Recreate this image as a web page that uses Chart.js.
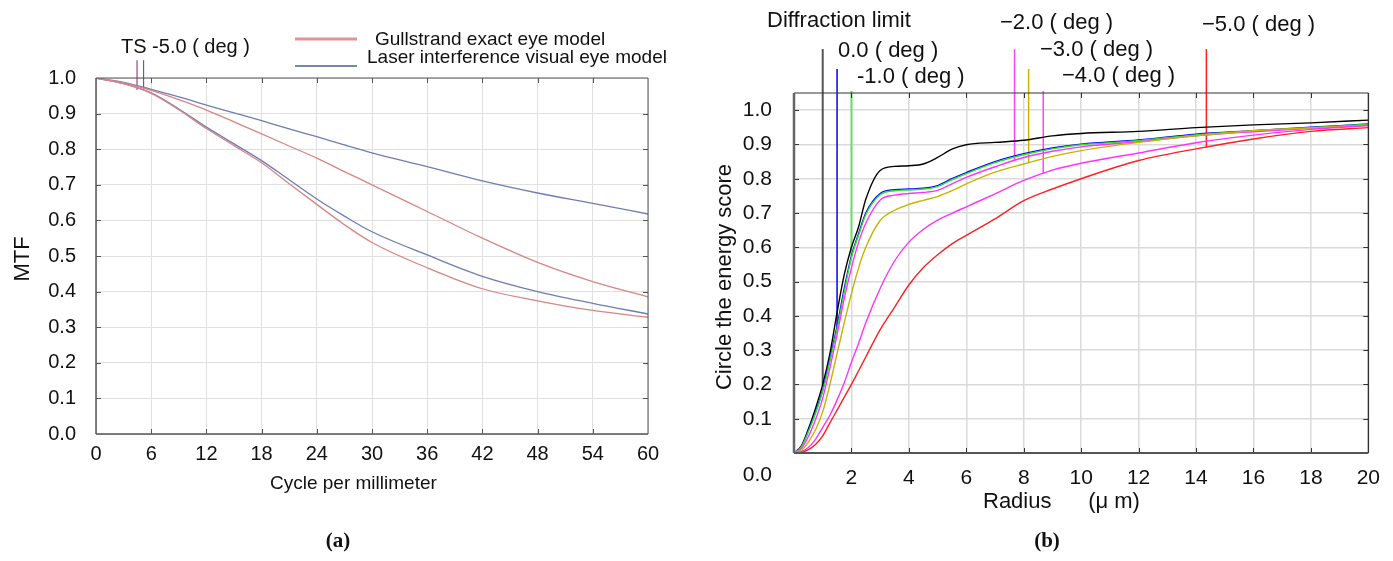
<!DOCTYPE html>
<html>
<head>
<meta charset="utf-8">
<script src="https://cdn.jsdelivr.net/npm/chart.js@4.4.1/dist/chart.umd.min.js"></script>
<style>
  html, body { margin: 0; padding: 0; background: #fff; }
  body { width: 1393px; height: 561px; position: relative; overflow: hidden; }
  .box { position: absolute; top: 0; height: 561px; }
  #boxA { left: 0; width: 690px; }
  #boxB { left: 700px; width: 693px; }
</style>
</head>
<body>
<div class="box" id="boxA"><canvas id="mtfChart"></canvas></div>
<div class="box" id="boxB"><canvas id="energyChart"></canvas></div>
<script>
// ---- (a) MTF ----
const cycles = [0, 3, 6, 9, 12, 15, 18, 21, 24, 27, 30, 36, 42, 48, 54, 60];
const laserUpper = [1, 0.988, 0.968, 0.947, 0.924, 0.902, 0.88, 0.857, 0.835, 0.812, 0.79, 0.751, 0.711, 0.677, 0.648, 0.618];
const gullUpper  = [1, 0.986, 0.965, 0.939, 0.91, 0.877, 0.843, 0.809, 0.775, 0.737, 0.70, 0.625, 0.55, 0.482, 0.428, 0.385];
const laserLower = [1, 0.984, 0.958, 0.913, 0.862, 0.815, 0.768, 0.714, 0.66, 0.612, 0.568, 0.503, 0.443, 0.40, 0.367, 0.337];
const gullLower  = [1, 0.984, 0.957, 0.911, 0.858, 0.81, 0.762, 0.703, 0.645, 0.588, 0.538, 0.467, 0.408, 0.374, 0.347, 0.328];
const tsCycles = [4.46, 5.17];
const tsTop = 1.05;
const tsEnd = [0.966, 0.97];

// ---- (b) encircled energy ----
const radius = [0, 0.25, 0.5, 0.75, 1, 1.25, 1.5, 1.75, 2, 2.25, 2.5, 3, 3.5, 4, 4.5, 5, 5.5, 6, 7, 8, 9, 10, 12, 14, 16, 18, 20];
const diffLimit = [0, 0.02, 0.07, 0.13, 0.2, 0.29, 0.41, 0.52, 0.6, 0.66, 0.74, 0.824, 0.836, 0.838, 0.843, 0.862, 0.886, 0.899, 0.906, 0.912, 0.925, 0.932, 0.938, 0.949, 0.957, 0.963, 0.971];
const deg0 = [0, 0.018, 0.065, 0.12, 0.185, 0.275, 0.37, 0.48, 0.575, 0.64, 0.7, 0.757, 0.768, 0.77, 0.772, 0.78, 0.8, 0.818, 0.85, 0.873, 0.89, 0.901, 0.913, 0.93, 0.94, 0.95, 0.96];
const deg1 = [0, 0.017, 0.062, 0.116, 0.18, 0.268, 0.362, 0.47, 0.57, 0.635, 0.695, 0.753, 0.765, 0.767, 0.77, 0.777, 0.797, 0.815, 0.847, 0.87, 0.887, 0.899, 0.911, 0.928, 0.939, 0.949, 0.959];
const deg2 = [0, 0.012, 0.048, 0.098, 0.16, 0.248, 0.345, 0.45, 0.54, 0.615, 0.67, 0.738, 0.752, 0.757, 0.76, 0.766, 0.785, 0.804, 0.835, 0.862, 0.88, 0.893, 0.908, 0.925, 0.937, 0.947, 0.956];
const deg3 = [0, 0.008, 0.032, 0.068, 0.12, 0.2, 0.29, 0.38, 0.465, 0.54, 0.6, 0.678, 0.708, 0.725, 0.737, 0.748, 0.765, 0.785, 0.819, 0.843, 0.865, 0.882, 0.906, 0.925, 0.94, 0.948, 0.956];
const deg4 = [0, 0.004, 0.016, 0.04, 0.075, 0.11, 0.155, 0.205, 0.265, 0.32, 0.38, 0.48, 0.56, 0.615, 0.652, 0.679, 0.699, 0.718, 0.756, 0.795, 0.825, 0.845, 0.875, 0.905, 0.927, 0.944, 0.955];
const deg5 = [0, 0.002, 0.01, 0.025, 0.05, 0.088, 0.125, 0.163, 0.2, 0.24, 0.28, 0.36, 0.425, 0.49, 0.54, 0.578, 0.61, 0.635, 0.683, 0.736, 0.77, 0.8, 0.853, 0.887, 0.916, 0.938, 0.949];
// label leader lines: radius, top (above plot) and end on the curve
const markerR   = [1.0, 1.5, 2.0, 7.68, 8.17, 8.68, 14.36];
const markerTop = [1.178, 1.12, 1.056, 1.178, 1.12, 1.056, 1.178];
const markerEnd = [0.2, 0.37, 0.575, 0.853, 0.845, 0.815, 0.892];

const FONT = "'Liberation Sans', Arial, sans-serif";

function series(xs, ys) { return xs.map((v, i) => ({ x: v, y: ys[i] })); }
function leader(xv, top, end) { return [{ x: xv, y: top }, { x: xv, y: end }]; }

// inward tick marks + frame, like the plotting program draws them
const frameTicks = {
  id: 'frameTicks',
  afterDatasetsDraw(chart, args, o) {
    const { ctx, chartArea: a, scales: { x, y } } = chart;
    ctx.save();
    ctx.strokeStyle = o.tickColor;
    ctx.lineWidth = 1;
    ctx.beginPath();
    x.ticks.forEach(t => {
      if (t.value <= x.min || t.value >= x.max) return;
      const px = Math.round(x.getPixelForValue(t.value)) + 0.5;
      ctx.moveTo(px, a.top); ctx.lineTo(px, a.top + o.len);
      ctx.moveTo(px, a.bottom); ctx.lineTo(px, a.bottom - o.len);
    });
    y.ticks.forEach(t => {
      if (t.value <= y.min || t.value >= y.max) return;
      const py = Math.round(y.getPixelForValue(t.value)) + 0.5;
      ctx.moveTo(a.left, py); ctx.lineTo(a.left + o.len, py);
      ctx.moveTo(a.right, py); ctx.lineTo(a.right - o.len, py);
    });
    ctx.stroke();
    const side = (w, c, x1, y1, x2, y2) => {
      ctx.lineWidth = w; ctx.strokeStyle = c;
      ctx.beginPath(); ctx.moveTo(x1, y1); ctx.lineTo(x2, y2); ctx.stroke();
    };
    side(o.top[0], o.top[1], a.left, a.top, a.right, a.top);
    side(o.right[0], o.right[1], a.right, a.top, a.right, a.bottom);
    side(o.bottom[0], o.bottom[1], a.left, a.bottom, a.right, a.bottom);
    side(o.left[0], o.left[1], a.left, a.top, a.left, a.bottom);
    ctx.restore();
  }
};

// free texts (titles, legend, annotations)
const texts = {
  id: 'texts',
  afterDraw(chart, args, o) {
    const ctx = chart.ctx;
    ctx.save();
    (o.lines || []).forEach(l => {
      ctx.strokeStyle = l.color; ctx.lineWidth = l.width;
      ctx.beginPath(); ctx.moveTo(l.x1, l.y); ctx.lineTo(l.x2, l.y); ctx.stroke();
    });
    (o.items || []).forEach(t => {
      ctx.save();
      ctx.fillStyle = t.color || '#111';
      ctx.font = t.font;
      ctx.textAlign = t.align || 'left';
      ctx.textBaseline = t.baseline || 'alphabetic';
      ctx.translate(t.x, t.y);
      if (t.rotate) ctx.rotate(t.rotate);
      ctx.fillText(t.text, 0, 0);
      ctx.restore();
    });
    ctx.restore();
  }
};

// ---------- chart (a) ----------
const redA = '#d98585';
const blueA = '#6f7db2';
const tsColor = '#8c4a86';

new Chart(document.getElementById('mtfChart'), {
  type: 'line',
  data: {
    datasets: [
      { data: series(cycles, gullUpper), borderColor: redA },
      { data: series(cycles, gullLower), borderColor: redA },
      { data: series(cycles, laserUpper), borderColor: blueA },
      { data: series(cycles, laserLower), borderColor: blueA },
      ...tsCycles.map((c, i) => ({ data: leader(c, tsTop, tsEnd[i]), borderColor: tsColor, borderWidth: 1.2, clip: false }))
    ]
  },
  options: {
    responsive: true,
    maintainAspectRatio: false,
    animation: false,
    layout: { padding: { left: 0, right: 42, top: 78, bottom: 0 } },
    elements: { point: { radius: 0 }, line: { borderWidth: 1.3, cubicInterpolationMode: 'monotone' } },
    plugins: {
      legend: { display: false },
      tooltip: { enabled: false },
      frameTicks: {
        len: 5, tickColor: '#555',
        top: [1, '#555'], right: [1, '#555'], bottom: [1.5, '#555'], left: [1.5, '#555']
      },
      texts: {
        lines: [
          { x1: 295, x2: 357, y: 39, width: 3, color: '#e09494' },
          { x1: 295, x2: 357, y: 66, width: 2, color: '#7886aa' }
        ],
        items: [
          { text: 'TS -5.0 ( deg )', x: 121, y: 53, font: `20px ${FONT}` },
          { text: 'Gullstrand exact eye model', x: 375, y: 45, font: `19px ${FONT}` },
          { text: 'Laser interference visual eye model', x: 367, y: 63, font: `19px ${FONT}` },
          { text: 'MTF', x: 23, y: 259, font: `22px ${FONT}`, align: 'center', baseline: 'middle', rotate: -Math.PI / 2 },
          { text: 'Cycle per millimeter', x: 270, y: 489, font: `19px ${FONT}` },
          { text: '(a)', x: 338, y: 547, font: `bold 21px 'Liberation Serif', 'DejaVu Serif', serif`, align: 'center' }
        ]
      }
    },
    scales: {
      x: {
        type: 'linear', min: 0, max: 60,
        afterFit: s => { s.height = 127; },
        ticks: { stepSize: 6, autoSkip: false, maxRotation: 0, padding: 8, color: '#111', font: { family: FONT, size: 20 } },
        grid: { color: '#e0e0e0', drawTicks: false },
        border: { display: false }
      },
      y: {
        min: 0, max: 1,
        afterFit: s => { s.width = 96; },
        ticks: { stepSize: 0.1, padding: 20, color: '#111', font: { family: FONT, size: 20 }, callback: v => v.toFixed(1) },
        grid: { color: '#e0e0e0', drawTicks: false },
        border: { display: false }
      }
    }
  },
  plugins: [frameTicks, texts]
});

// ---------- chart (b) ----------
const curveColors = ['#000000', '#0000ff', '#33dd33', '#ff33ff', '#c8b400', '#ff33ff', '#ff2020'];
const curves = [diffLimit, deg0, deg1, deg2, deg3, deg4, deg5];
const leaderColors = ['#555555', '#0000ff', '#66e066', '#ff44ff', '#c8b400', '#ff44ff', '#ff2020'];
const leaderWidths = [2, 1.5, 2, 1.5, 1.5, 1.5, 1.5];
const OX = 700; // page offset of canvas (b)

new Chart(document.getElementById('energyChart'), {
  type: 'line',
  data: {
    datasets: [
      ...curves.map((c, i) => ({ data: series(radius, c), borderColor: curveColors[i] })).reverse(),
      ...markerR.map((r, i) => ({
        data: leader(r, markerTop[i], markerEnd[i]),
        borderColor: leaderColors[i], borderWidth: leaderWidths[i], clip: false
      }))
    ]
  },
  options: {
    responsive: true,
    maintainAspectRatio: false,
    animation: false,
    layout: { padding: { left: 0, right: 21, top: 93, bottom: 0 } },
    elements: { point: { radius: 0 }, line: { borderWidth: 1.4, cubicInterpolationMode: 'monotone' } },
    plugins: {
      legend: { display: false },
      tooltip: { enabled: false },
      frameTicks: {
        len: 5, tickColor: '#333',
        top: [1, '#333'], right: [1.2, '#222'], bottom: [2, '#555'], left: [2.5, '#666']
      },
      texts: {
        items: [
          { text: 'Diffraction limit', x: 767 - OX, y: 27, font: `22px ${FONT}` },
          { text: '0.0 ( deg )', x: 838 - OX, y: 57, font: `22px ${FONT}` },
          { text: '-1.0 ( deg )', x: 857 - OX, y: 83, font: `22px ${FONT}` },
          { text: '\u22122.0 ( deg )', x: 1000 - OX, y: 29, font: `22px ${FONT}` },
          { text: '\u22123.0 ( deg )', x: 1040 - OX, y: 56, font: `22px ${FONT}` },
          { text: '\u22124.0 ( deg )', x: 1062 - OX, y: 82, font: `22px ${FONT}` },
          { text: '\u22125.0 ( deg )', x: 1202 - OX, y: 31, font: `22px ${FONT}` },
          { text: 'Circle the energy score', x: 725 - OX, y: 277, font: `22px ${FONT}`, align: 'center', baseline: 'middle', rotate: -Math.PI / 2 },
          { text: 'Radius      (\u03bc m)', x: 983 - OX, y: 508, font: `22px ${FONT}` },
          { text: '0.0', x: 772 - OX, y: 475, font: `21px ${FONT}`, align: 'right', baseline: 'middle' },
          { text: '(b)', x: 1047 - OX, y: 547, font: `bold 21px 'Liberation Serif', 'DejaVu Serif', serif`, align: 'center' }
        ]
      }
    },
    scales: {
      x: {
        type: 'linear', min: 0, max: 20,
        afterFit: s => { s.height = 108; },
        ticks: { stepSize: 2, autoSkip: false, maxRotation: 0, padding: 13, color: '#111', font: { family: FONT, size: 21 }, callback: v => (v === 0 ? '' : v) },
        grid: { color: '#dadada', lineWidth: 1.5, drawTicks: false },
        border: { display: false }
      },
      y: {
        min: 0, max: 1.05,
        afterFit: s => { s.width = 94; },
        ticks: { stepSize: 0.1, includeBounds: false, padding: 22, color: '#111', font: { family: FONT, size: 21 }, callback: v => (v < 0.05 ? '' : v.toFixed(1)) },
        grid: { color: '#dadada', lineWidth: 1.5, drawTicks: false },
        border: { display: false }
      }
    }
  },
  plugins: [frameTicks, texts]
});
</script>
</body>
</html>
